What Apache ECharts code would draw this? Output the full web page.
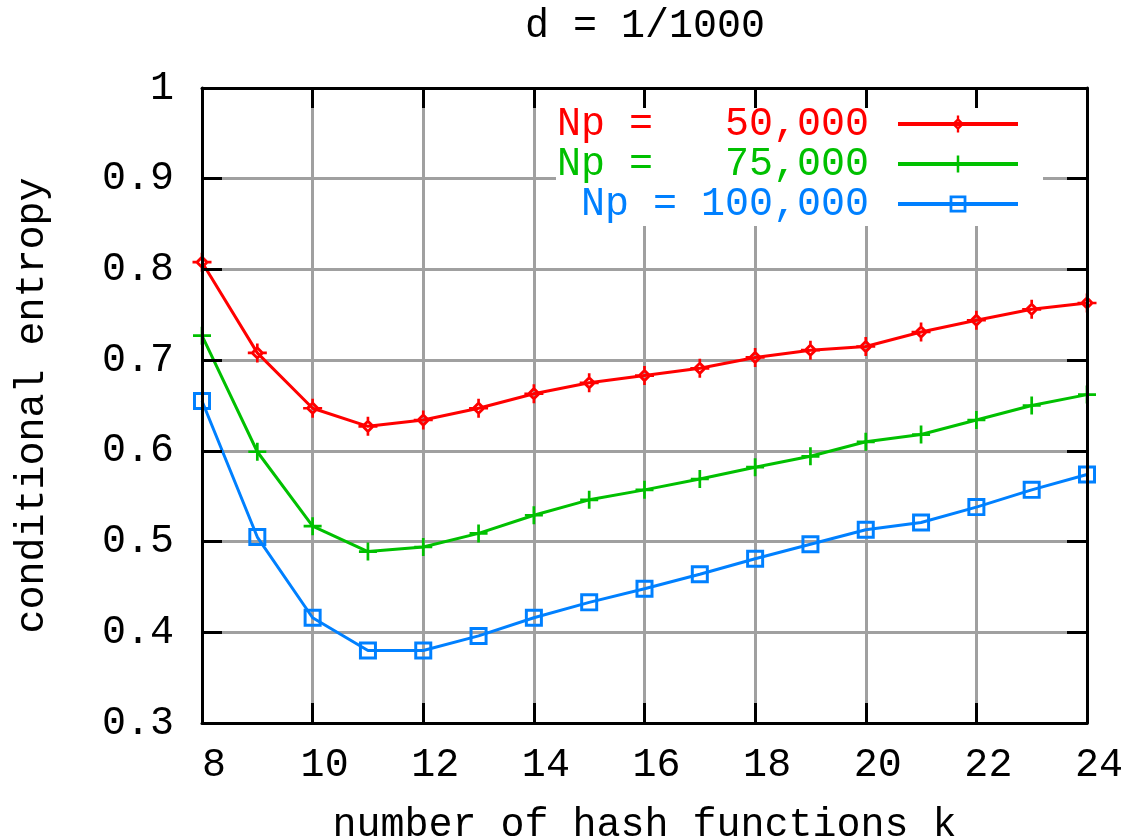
<!DOCTYPE html>
<html>
<head>
<meta charset="utf-8">
<script src="https://cdn.jsdelivr.net/npm/echarts@6/dist/echarts.min.js"></script>
<style>html,body{margin:0;padding:0;background:#fff}#c{width:1123px;height:838px}</style>
</head>
<body>
<div id="c"></div>
<script>
const titleText = 'd = 1/1000';
const xName = 'number of hash functions k';
const yName = 'conditional entropy';
const kValues = [8, 9, 10, 11, 12, 13, 14, 15, 16, 17, 18, 19, 20, 21, 22, 23, 24];
const seriesNames = ['Np =   50,000', 'Np =   75,000', 'Np = 100,000'];
const np50k = [0.808, 0.708, 0.647, 0.627, 0.634, 0.647, 0.663, 0.675, 0.683, 0.691, 0.703, 0.711, 0.715, 0.731, 0.744, 0.756, 0.763];
const np75k = [0.727, 0.599, 0.517, 0.489, 0.494, 0.509, 0.529, 0.546, 0.557, 0.569, 0.582, 0.594, 0.610, 0.618, 0.634, 0.650, 0.662];
const np100k = [0.655, 0.505, 0.416, 0.380, 0.380, 0.396, 0.416, 0.433, 0.448, 0.464, 0.481, 0.497, 0.513, 0.521, 0.538, 0.557, 0.574];
const xMin = 8, xMax = 24, xStep = 2;
const yMin = 0.3, yMax = 1, yStep = 0.1;

const FONT = 'Liberation Mono';
const FS = 40;
const colors = ['#ff0000', '#00c000', '#0080ff'];
const symbols = [
  'path://M10 2.5L17.5 10L10 17.5L2.5 10Z M10 6.8L6.8 10L10 13.2L13.2 10Z M8.6 0H11.4V4.5H8.6Z M8.6 15.5H11.4V20H8.6Z M0 8.6H4.5V11.4H0Z M15.5 8.6H20V11.4H15.5Z',
  'path://M8.5 0H11.5V8.5H20V11.5H11.5V20H8.5V11.5H0V8.5H8.5Z',
  'path://M0 0H20V20H0Z M3.3 3.3V16.7H16.7V3.3Z'
];
const symbolSizes = [19, 18, 18];
const values = [np50k, np75k, np100k];

const grid = { left: 202, right: 36, top: 88, bottom: 115, outerBoundsMode: 'none', containLabel: false };
const txt = { fontFamily: FONT, fontSize: FS, color: '#000' };

function tickAxis(pos, isX) {
  return {
    type: 'value', position: pos, min: isX ? xMin : yMin, max: isX ? xMax : yMax,
    interval: isX ? xStep : yStep, z: 3,
    axisLine: { show: true, onZero: false, lineStyle: { color: '#000', width: 3 } },
    axisTick: { show: true, inside: true, length: 20, lineStyle: { color: '#000', width: 3 } },
    axisLabel: { show: false }, splitLine: { show: false }
  };
}

const chart = echarts.init(document.getElementById('c'), null, { renderer: 'canvas' });
chart.setOption({
  animation: false,
  backgroundColor: '#fff',
  title: {
    text: titleText, left: 645 - titleText.length * FS * 0.6 / 2, top: 6, padding: 0,
    textStyle: Object.assign({ fontWeight: 'normal' }, txt)
  },
  grid: grid,
  legend: {
    orient: 'vertical', align: 'right', right: 103, top: 104, padding: 0,
    itemWidth: 120, itemHeight: 21, itemGap: 0,
    lineStyle: { width: 4 },
    data: seriesNames.map((n, i) => ({ name: n, textStyle: { color: colors[i] } })),
    formatter: n => n.padStart(13, ' ') + ' ',
    textStyle: { fontFamily: FONT, fontSize: FS, lineHeight: 40 }
  },
  graphic: [{
    type: 'rect', z: 1, silent: true,
    shape: { x: 556, y: 108, width: 487, height: 118 },
    style: { fill: '#fff' }
  }],
  xAxis: [
    {
      type: 'value', position: 'bottom', min: xMin, max: xMax, interval: xStep, z: 0,
      name: xName, nameLocation: 'middle', nameGap: 82,
      nameTextStyle: txt,
      axisLine: { show: false }, axisTick: { show: false },
      axisLabel: Object.assign({ margin: 22, padding: [0, 0, 0, 24] }, txt),
      splitLine: { show: true, lineStyle: { color: '#a0a0a0', width: 3 } }
    },
    tickAxis('bottom', true),
    tickAxis('top', true)
  ],
  yAxis: [
    {
      type: 'value', position: 'left', min: yMin, max: yMax, interval: yStep, z: 0,
      name: yName, nameLocation: 'middle', nameGap: 150,
      nameTextStyle: txt,
      axisLine: { show: false }, axisTick: { show: false },
      axisLabel: Object.assign({ margin: 28 }, txt),
      splitLine: { show: true, lineStyle: { color: '#a0a0a0', width: 3 } }
    },
    tickAxis('left', false),
    tickAxis('right', false)
  ],
  series: seriesNames.map((n, i) => ({
    name: n, type: 'line', xAxisIndex: 0, yAxisIndex: 0, clip: false,
    data: kValues.map((k, j) => [k, values[i][j]]),
    symbol: symbols[i], symbolSize: symbolSizes[i], showAllSymbol: true,
    lineStyle: { color: colors[i], width: 3 },
    itemStyle: { color: colors[i], borderWidth: 0 },
    z: 2
  }))
});
</script>
</body>
</html>
